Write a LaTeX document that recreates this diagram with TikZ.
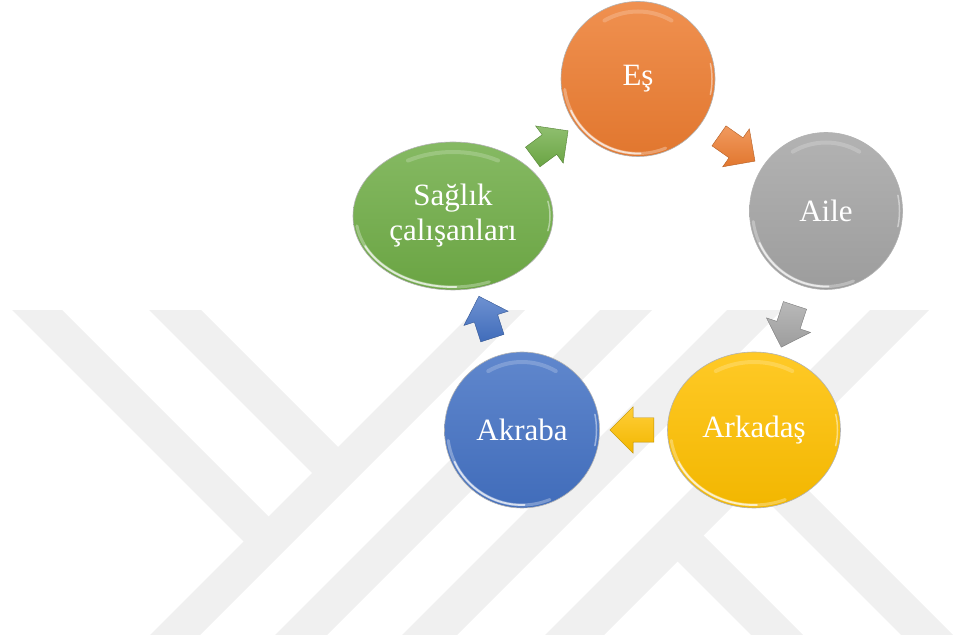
\documentclass[tikz,border=0pt]{standalone}
\usepackage{fontspec}
\setmainfont{Liberation Serif}
\usepackage{tikz}
\usetikzlibrary{shapes.geometric, shapes.arrows}

\definecolor{naranja}{HTML}{ED7D31}
\definecolor{gris}{HTML}{A5A5A5}
\definecolor{amarillo}{HTML}{FFC000}
\definecolor{azul}{HTML}{4472C4}
\definecolor{verde}{HTML}{70AD47}
\definecolor{marca}{HTML}{F0F0F0}

% brillo de una bola: nombre, radio x, radio y
\newcommand{\brillobola}[3]{%
  \draw[brillo, opacity=0.3, line width=3pt] (#1.center) ++(188:#2 and #3) arc[start angle=188, end angle=292, x radius=#2, y radius=#3];
  \draw[brillo] (#1.center) ++(205:#2 and #3) arc[start angle=205, end angle=272, x radius=#2, y radius=#3];
  \draw[brillo, opacity=0.2, line width=4pt] (#1.center) ++(60:{#2-7} and {#3-7}) arc[start angle=60, end angle=120, x radius=#2-7, y radius=#3-7];
  \draw[brillo, opacity=0.45, line width=1.5pt] (#1.center) ++(-12:#2 and #3) arc[start angle=-12, end angle=12, x radius=#2, y radius=#3];
}

\begin{document}
\begin{tikzpicture}[x=1pt, y=1pt,
    bola/.style={ellipse, draw=black!30, line width=0.6pt, inner sep=0pt,
      top color=#1!85!white, bottom color=#1!95!black, text=white,
      font=\fontsize{31}{35}\selectfont, align=center},
    flecha/.style={single arrow, single arrow head extend=11pt, inner xsep=0pt, inner ysep=12pt,
      minimum width=0pt, minimum height=44pt, draw=#1!75!black, line width=0.4pt,
      top color=#1!78!white, bottom color=#1!95!black, sloped, allow upside down, pos=0.5},
    brillo/.style={white, opacity=0.7, line width=1.8pt, line cap=round}]
  \useasboundingbox (0,0) rectangle (963,634);

  % Dibujar la marca de agua
  \begin{scope}[shift={(0,634)}, yscale=-1]
    \clip (0,311) rectangle (963,634);
    \foreach \c/\d in {785/835, 910/962, 1037/1092, 1180/1239}
      \fill[marca] ({\c-300},300) -- ({\d-300},300) -- ({\d-650},650) -- ({\c-650},650) -- cycle;
    \fill[marca] (2,300) -- (52,300) -- (276,524) -- (251,549) -- cycle;
    \fill[marca] (139,300) -- (191,300) -- (345.5,454.5) -- (319.5,480.5) -- cycle;
    \fill[marca] (670.5,554.5) -- (696.5,528.5) -- (818,650) -- (766,650) -- cycle;
    \fill[marca] (745.5,479.5) -- (771.5,453.5) -- (968,650) -- (916,650) -- cycle;
  \end{scope}

  % Dibujar las bolas
  \node[bola=naranja, minimum width=154pt, minimum height=155pt] (es) at (638,555) {Eş};
  \node[bola=gris, minimum width=153pt, minimum height=157pt] (aile) at (826,423) {Aile};
  \node[bola=amarillo, minimum width=173pt, minimum height=156pt] (arkadas) at (754,204) {Arkadaş};
  \node[bola=azul, minimum width=155pt, minimum height=156pt] (akraba) at (522,204) {Akraba};
  \node[bola=verde, minimum width=200pt, minimum height=148pt] (saglik) at (453,418) {Sağlık\\çalışanları};

  \brillobola{es}{74}{74.5}
  \brillobola{aile}{73.5}{75.5}
  \brillobola{arkadas}{83.5}{75}
  \brillobola{akraba}{74.5}{75}
  \brillobola{saglik}{97}{71}

  % Dibujar las flechas
  \path (saglik.center) -- node[flecha=verde] (fverde) {} (es.center);
  \path (es.center) -- node[flecha=naranja] (fnaranja) {} (aile.center);
  \path (aile.center) -- node[flecha=gris] (fgris) {} (arkadas.center);
  \path (arkadas.center) -- node[flecha=amarillo] (famarillo) {} (akraba.center);
  \path (akraba.center) -- node[flecha=azul] (fazul) {} (saglik.center);
\end{tikzpicture}
\end{document}
